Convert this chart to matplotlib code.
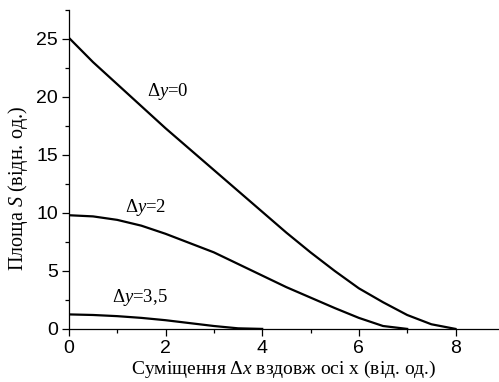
import matplotlib
matplotlib.use('AGG')
from matplotlib import pyplot as plt
from matplotlib.ticker import MultipleLocator

plt.rcParams['mathtext.fontset'] = 'custom'
plt.rcParams['mathtext.rm'] = 'Liberation Serif'
plt.rcParams['mathtext.it'] = 'Liberation Serif:italic'

# shift along x (rel. units)
dx = [0, 0.5, 1, 1.5, 2, 2.5, 3, 3.5, 4, 4.5, 5, 5.5, 6, 6.5, 7, 7.5, 8]
s_dy0 = [25.1, 23.0, 21.1, 19.2, 17.3, 15.5, 13.7, 11.9, 10.1, 8.3, 6.6, 5.0, 3.5, 2.3, 1.2, 0.4, 0.0]
dx2 = [0, 0.5, 1, 1.5, 2, 2.5, 3, 3.5, 4, 4.5, 5, 5.5, 6, 6.5, 7]
s_dy2 = [9.8, 9.7, 9.4, 8.9, 8.2, 7.4, 6.6, 5.6, 4.6, 3.6, 2.7, 1.8, 0.95, 0.25, 0.0]
dx35 = [0, 0.5, 1, 1.5, 2, 2.5, 3, 3.5, 4]
s_dy35 = [1.25, 1.2, 1.1, 0.95, 0.75, 0.5, 0.25, 0.05, 0.0]

curve_labels = ['\u0394$y$=0', '\u0394$y$=2', '\u0394$y$=3,5']
label_pos = [(1.61, 20.5), (1.16, 10.5), (0.89, 2.67)]

fig = plt.figure(figsize=(4.99, 3.82), dpi=100)
ax = fig.add_axes([0.138, 0.139, 0.862, 0.835])

for xs, ys in [(dx, s_dy0), (dx2, s_dy2), (dx35, s_dy35)]:
    ax.plot(xs, ys, color='black', lw=1.6)

for txt, (tx, ty) in zip(curve_labels, label_pos):
    ax.text(tx, ty, txt, ha='left', va='center', fontsize=13.5, family='Liberation Serif')

ax.set_xlim(0, 8.9)
ax.set_ylim(0, 27.5)
ax.xaxis.set_major_locator(MultipleLocator(2))
ax.xaxis.set_minor_locator(MultipleLocator(1))
ax.yaxis.set_major_locator(MultipleLocator(5))
ax.yaxis.set_minor_locator(MultipleLocator(2.5))
for sp in ['top', 'right']:
    ax.spines[sp].set_visible(False)
for sp in ['left', 'bottom']:
    ax.spines[sp].set_linewidth(0.9)
ax.tick_params(which='major', length=5, width=0.9, labelsize=14, direction='out', pad=3)
ax.tick_params(which='minor', length=3, width=0.9, direction='out')
for lab in ax.get_xticklabels() + ax.get_yticklabels():
    lab.set_family('Liberation Sans')

ax.set_xlabel('Суміщення \u0394$x$ вздовж осі x (від. од.)', family='Liberation Serif', fontsize=14, labelpad=1)
ax.set_ylabel('Площа $S$ (відн. од.)', family='Liberation Serif', fontsize=14.5)
ax.yaxis.set_label_coords(-0.09, 0.44)

plt.savefig('out.png', dpi=100)
